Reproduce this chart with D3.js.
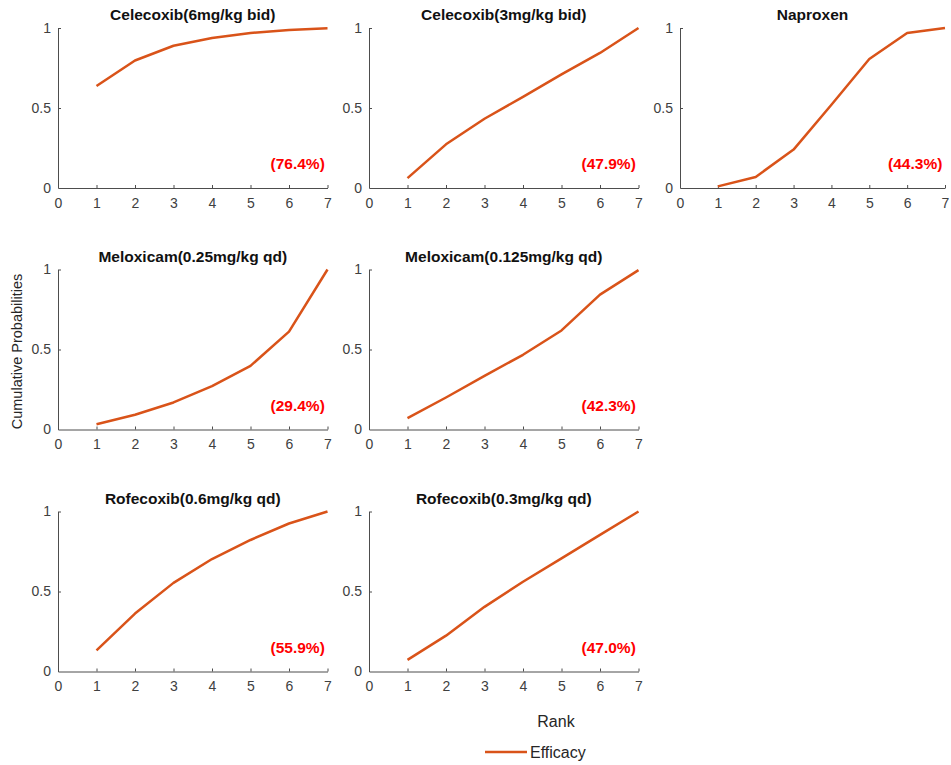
<!DOCTYPE html>
<html><head><meta charset="utf-8">
<script src="https://cdn.jsdelivr.net/npm/d3@7"></script>
<style>body{margin:0;background:#fff;} svg{display:block;}</style>
</head><body><div id="chart"></div>
<script>
const ranks = [1,2,3,4,5,6,7];
const titles = ["Celecoxib(6mg/kg bid)","Celecoxib(3mg/kg bid)","Naproxen","Meloxicam(0.25mg/kg qd)","Meloxicam(0.125mg/kg qd)","Rofecoxib(0.6mg/kg qd)","Rofecoxib(0.3mg/kg qd)"];
const sucra = ["(76.4%)","(47.9%)","(44.3%)","(29.4%)","(42.3%)","(55.9%)","(47.0%)"];
const celecoxib6 = [0.638,0.797,0.889,0.937,0.969,0.987,0.998];
const celecoxib3 = [0.062,0.273,0.433,0.569,0.710,0.844,1.0];
const naproxen = [0.010,0.069,0.240,0.520,0.806,0.969,1.0];
const meloxicam025 = [0.033,0.092,0.169,0.271,0.398,0.612,1.0];
const meloxicam0125 = [0.071,0.200,0.335,0.467,0.619,0.843,0.996];
const rofecoxib06 = [0.132,0.362,0.554,0.703,0.822,0.925,1.0];
const rofecoxib03 = [0.073,0.224,0.404,0.561,0.707,0.854,1.0];
const seriesList = [celecoxib6,celecoxib3,naproxen,meloxicam025,meloxicam0125,rofecoxib06,rofecoxib03];
const xTicks = [0,1,2,3,4,5,6,7];
const yTicks = [0,0.5,1];
const yTickLabels = ["0","0.5","1"];

const W = 951, H = 765;
const colX = [58, 369, 680], colW = [269.5, 269.5, 265];
const rowTop = [28, 269.5, 511.5], ph = 160;
const lineColor = "#D95319", axisColor = "#4d4d4d", textColor = "#404040";
const font = "'Liberation Sans', Arial, Helvetica, sans-serif";

const svg = d3.select("#chart").append("svg").attr("width", W).attr("height", H)
  .style("font-family", font);

seriesList.forEach((vals, i) => {
  const c = i < 3 ? i : (i < 5 ? i - 3 : i - 5);
  const r = i < 3 ? 0 : (i < 5 ? 1 : 2);
  const x = d3.scaleLinear().domain([0,7]).range([colX[c], colX[c] + colW[c]]);
  const y = d3.scaleLinear().domain([0,1]).range([rowTop[r] + ph, rowTop[r]]);
  const g = svg.append("g");

  const xa = g.append("g").attr("transform", `translate(0,${y(0)})`)
    .call(d3.axisBottom(x).tickValues(xTicks).tickFormat(d3.format("d")).tickSizeInner(-3).tickSizeOuter(0).tickPadding(10));
  const ya = g.append("g").attr("transform", `translate(${x(0)},0)`)
    .call(d3.axisLeft(y).tickValues(yTicks).tickFormat((d,j)=>yTickLabels[j]).tickSizeInner(-3).tickSizeOuter(0).tickPadding(7));
  [xa, ya].forEach(a => {
    a.select(".domain").attr("stroke", axisColor).attr("stroke-width", 1);
    a.selectAll(".tick line").attr("stroke", axisColor);
    a.selectAll("text").attr("fill", textColor).style("font-size", "14px").style("font-family", font);
  });
  xa.selectAll(".tick").filter(d => d === 0).select("line").remove();
  ya.selectAll(".tick").filter(d => d === 0).select("line").remove();

  g.append("path").datum(vals)
    .attr("fill", "none").attr("stroke", lineColor).attr("stroke-width", 2.5)
    .attr("stroke-linejoin", "round")
    .attr("d", d3.line().x((d,k) => x(ranks[k])).y(d => y(d)));

  g.append("text").attr("x", (x(0) + x(7)) / 2).attr("y", rowTop[r] - 8)
    .attr("text-anchor", "middle").attr("font-weight", "bold").attr("font-size", 15.5)
    .attr("fill", "#111").text(titles[i]);

  g.append("text").attr("x", x(6.93)).attr("y", y(0.15)).attr("dy", "0.35em")
    .attr("text-anchor", "end").attr("font-weight", "bold").attr("font-size", 15.5)
    .attr("fill", "#ff0000").text(sucra[i]);
});

svg.append("text").attr("transform", `translate(22,${rowTop[1] + ph/2 + 2}) rotate(-90)`)
  .attr("text-anchor", "middle").attr("font-size", 14.5).attr("fill", "#262626")
  .text("Cumulative Probabilities");

svg.append("text").attr("x", 556).attr("y", 721).attr("dy", "0.35em")
  .attr("text-anchor", "middle").attr("font-size", 16).attr("fill", "#262626").text("Rank");

svg.append("line").attr("x1", 485).attr("x2", 527).attr("y1", 752).attr("y2", 752)
  .attr("stroke", lineColor).attr("stroke-width", 2.5);
svg.append("text").attr("x", 530).attr("y", 752).attr("dy", "0.35em")
  .attr("font-size", 16).attr("fill", "#262626").text("Efficacy");
</script></body></html>
